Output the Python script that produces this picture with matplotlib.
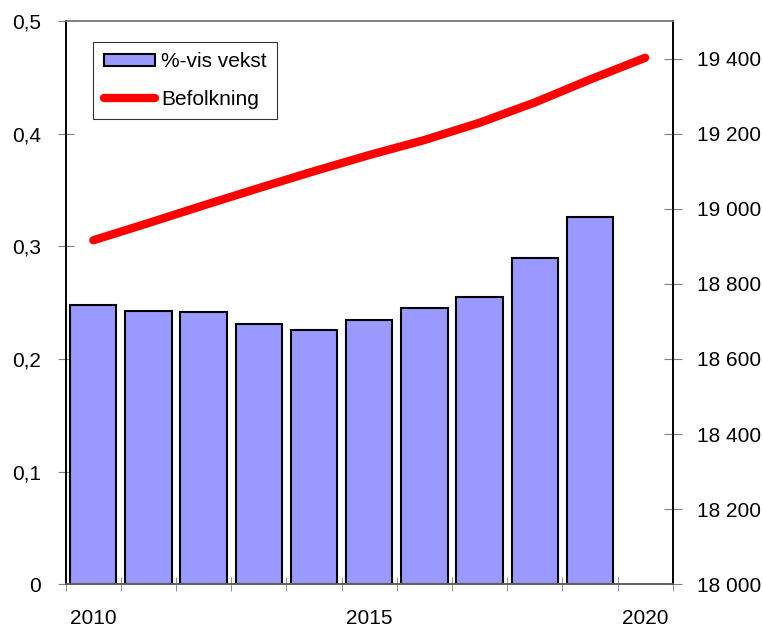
import matplotlib.pyplot as plt
from matplotlib.ticker import FuncFormatter, FixedLocator

plt.rcParams['font.family'] = ['Liberation Sans', 'DejaVu Sans']

# data
years = [2010, 2011, 2012, 2013, 2014, 2015, 2016, 2017, 2018, 2019]
vekst = [0.248, 0.243, 0.242, 0.231, 0.226, 0.235, 0.245, 0.255, 0.290, 0.326]
line_years = [2010, 2011, 2012, 2013, 2014, 2015, 2016, 2017, 2018, 2019, 2020]
befolkning = [18916, 18962, 19009, 19055, 19100, 19143, 19183, 19229, 19283, 19344, 19402]
x_labels = [2010, 2015, 2020]

fig = plt.figure(figsize=(7.63, 6.28), dpi=100)
ax = fig.add_axes([0.0861, 0.0696, 0.7956, 0.897])

bars = ax.bar(years, vekst, width=0.84, color='#9999FF', edgecolor='black',
              linewidth=1.5, label='%-vis vekst', zorder=2)
ax.set_xlim(2009.5, 2020.5)
ax.set_ylim(0, 0.5)
ax.set_yticks([0, 0.1, 0.2, 0.3, 0.4, 0.5])
ax.yaxis.set_major_formatter(FuncFormatter(lambda v, p: '0' if v == 0 else f'{v:.1f}'.replace('.', ',')))

ax.set_xticks(x_labels)
ax.set_xticklabels([str(y) for y in x_labels])
ax.xaxis.set_minor_locator(FixedLocator([y + 0.5 for y in range(2009, 2021)]))
ax.tick_params(axis='x', which='major', length=0, pad=18, labelsize=15)
ax.tick_params(axis='x', which='minor', direction='inout', length=10, color='#808080')
ax.tick_params(axis='y', direction='inout', length=12, color='#808080', pad=12, labelsize=15)

ax2 = ax.twinx()
ax2.set_position(ax.get_position())
ln, = ax2.plot(line_years, befolkning, color='red', linewidth=6,
               solid_capstyle='round', solid_joinstyle='round', label='Befolkning')
ax2.set_ylim(18000, 19500)
ax2.set_yticks(range(18000, 19401, 200))
ax2.yaxis.set_major_formatter(FuncFormatter(lambda v, p: f'{int(v):,}'.replace(',', ' ')))
ax2.tick_params(axis='y', direction='inout', length=13, color='#808080', pad=11, labelsize=15)

for a in (ax, ax2):
    a.spines['left'].set_color('black')
    a.spines['right'].set_color('black')
    a.spines['top'].set_color('#808080')
    a.spines['bottom'].set_color('#606060')
    for s in a.spines.values():
        s.set_linewidth(1.2)

leg = ax2.legend([bars, ln], ['%-vis vekst', 'Befolkning'], loc='upper left',
                 bbox_to_anchor=(0.0455, 0.963), borderaxespad=0, fontsize=15,
                 frameon=True, fancybox=False, shadow=False, handlelength=2.45,
                 handleheight=0.5, handletextpad=0.3, labelspacing=0.9,
                 borderpad=0.5)
leg.get_frame().set_edgecolor('black')
leg.get_frame().set_linewidth(0.8)

fig.savefig('out.png', dpi=100)
